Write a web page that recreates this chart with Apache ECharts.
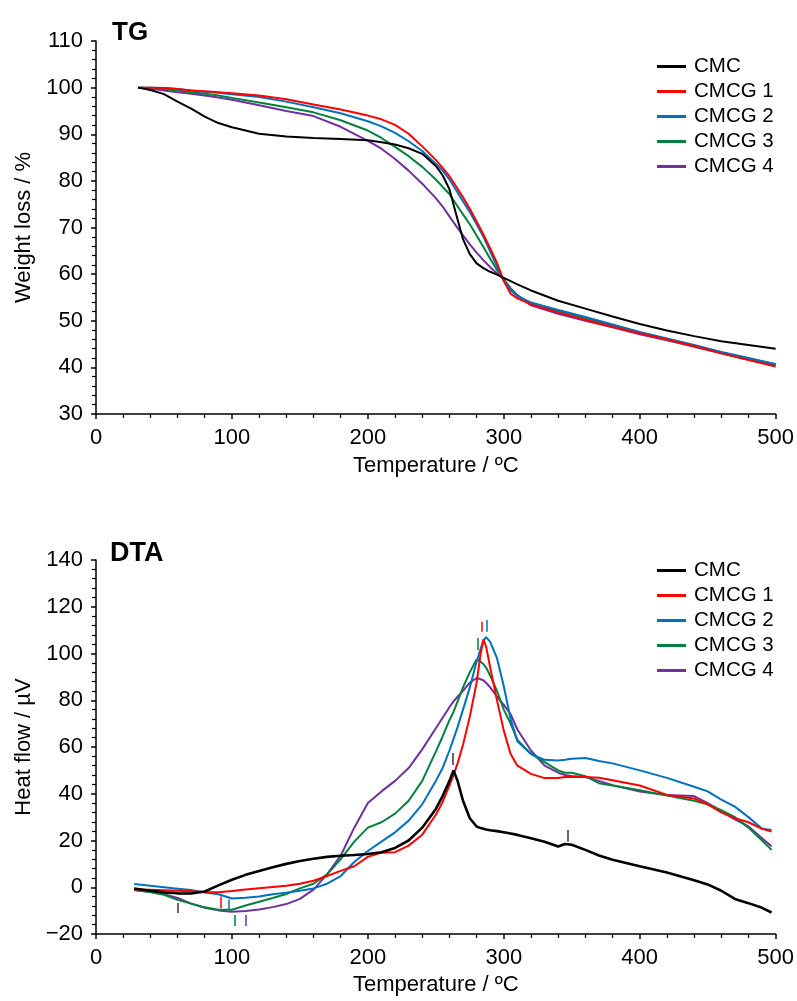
<!DOCTYPE html>
<html>
<head>
<meta charset="utf-8">
<script src="https://cdn.jsdelivr.net/npm/echarts@6/dist/echarts.min.js"></script>
<style>
html,body{margin:0;padding:0;background:#fff;}
#c{width:797px;height:1001px;}
</style>
</head>
<body>
<div id="c"></div>
<script>
// ---------- DATA ----------
const seriesNames = ['CMC', 'CMCG 1', 'CMCG 2', 'CMCG 3', 'CMCG 4'];
const seriesColors = ['#000000', '#ff0000', '#0070c0', '#00823b', '#7030a0'];

// TG: temperature (°C) and weight (%)
const tgT = [31, 40, 50, 60, 70, 80, 90, 100, 120, 140, 160, 180, 200, 210, 220, 230, 240, 250, 255, 260, 265, 270, 275, 280, 285, 290, 295, 300, 305, 310, 320, 340, 360, 380, 400, 420, 440, 460, 480, 500];
const tgCMC   = [100, 99.5, 98.6, 97.0, 95.5, 93.8, 92.4, 91.5, 90.1, 89.5, 89.2, 89.0, 88.7, 88.3, 87.8, 87.0, 85.8, 83.2, 81.2, 78.2, 72.8, 67.5, 64.3, 62.3, 61.3, 60.5, 59.9, 59.2, 58.5, 57.8, 56.5, 54.3, 52.6, 50.9, 49.3, 47.9, 46.7, 45.6, 44.8, 44.0];
const tgCMCG1 = [100, 100, 99.9, 99.7, 99.4, 99.2, 99.0, 98.8, 98.3, 97.5, 96.4, 95.3, 94.0, 93.2, 92.0, 90.1, 87.4, 84.5, 82.8, 81.0, 78.8, 76.5, 74.0, 71.3, 68.5, 65.5, 62.4, 58.5, 55.8, 54.8, 53.5, 51.8, 50.2, 48.7, 47.3, 46.0, 44.6, 43.0, 41.6, 40.2];
const tgCMCG2 = [100, 100, 99.9, 99.7, 99.4, 99.1, 98.9, 98.6, 98.0, 97.0, 95.8, 94.5, 92.8, 91.7, 90.3, 88.5, 86.4, 83.7, 82.2, 80.3, 78.0, 75.6, 73.3, 70.7, 68.0, 64.9, 61.6, 58.6, 56.5, 55.3, 53.9, 52.3, 50.8, 49.2, 47.6, 46.2, 44.8, 43.3, 42.0, 40.7];
const tgCMCG3 = [100, 99.9, 99.7, 99.4, 99.0, 98.7, 98.3, 97.8, 96.8, 95.8, 94.7, 93.0, 90.8, 89.2, 87.3, 85.3, 83.0, 80.3, 78.7, 77.2, 75.0, 72.8, 70.7, 68.3, 65.8, 63.3, 60.9, 58.8, 56.8, 55.4, 53.8, 52.1, 50.6, 49.0, 47.5, 46.0, 44.6, 43.2, 41.9, 40.7];
const tgCMCG4 = [100, 99.8, 99.4, 99.0, 98.7, 98.3, 97.9, 97.4, 96.2, 95.0, 93.9, 91.6, 88.6, 86.9, 84.7, 82.2, 79.4, 76.3, 74.5, 72.4, 70.3, 68.3, 66.4, 64.6, 63.0, 61.5, 60.2, 58.9, 57.0, 55.5, 53.3, 51.5, 50.0, 48.6, 47.1, 45.8, 44.4, 43.0, 41.7, 40.5];

// DTA: temperature (°C) and heat flow (µV)
const dtaT = [28, 40, 50, 60, 70, 80, 90, 100, 110, 120, 130, 140, 150, 160, 170, 180, 190, 200, 210, 220, 230, 240, 250, 255, 260, 263, 266, 270, 275, 280, 283, 285, 287, 290, 295, 300, 305, 310, 320, 330, 340, 345, 350, 360, 370, 380, 400, 420, 440, 450, 460, 470, 480, 490, 497];
const dtaCMC   = [-0.5, -1.5, -2.2, -2.6, -2.7, -1.8, 0.8, 3.2, 5.3, 7.0, 8.6, 10.0, 11.2, 12.2, 13.0, 13.5, 13.8, 14.2, 15.0, 16.8, 20.0, 25.5, 33.5, 39.0, 45.5, 50.0, 45.5, 37.0, 29.5, 26.0, 25.3, 25.0, 24.7, 24.4, 24.0, 23.5, 23.0, 22.4, 21.0, 19.5, 17.4, 18.5, 18.2, 16.0, 13.6, 11.8, 9.0, 6.3, 3.0, 1.2, -1.5, -5.0, -6.8, -8.8, -10.8];
const dtaCMCG1 = [-1.0, -1.1, -1.3, -1.5, -1.7, -2.0, -2.1, -1.6, -1.0, -0.4, 0.1, 0.6, 1.5, 2.8, 4.8, 7.0, 9.0, 13.0, 14.8, 15.0, 17.8, 22.5, 31.0, 36.5, 43.5, 48.0, 53.0, 61.0, 73.0, 87.5, 100.0, 106.0, 103.0, 94.0, 80.0, 67.0, 57.0, 52.0, 48.5, 46.7, 46.7, 47.2, 47.2, 47.2, 46.8, 45.8, 43.5, 39.5, 38.0, 35.5, 32.0, 29.5, 27.8, 25.0, 23.8];
const dtaCMCG2 = [1.4, 0.6, 0.0, -0.6, -1.2, -2.2, -3.0, -4.8, -4.5, -4.0, -3.0, -2.3, -1.5, -0.5, 1.5, 4.8, 10.8, 15.5, 19.5, 23.5, 28.5, 35.5, 45.5, 51.0, 58.5, 63.5, 68.5, 76.0, 85.5, 96.5, 102.0, 105.5, 107.0, 105.0, 98.0, 86.0, 72.0, 62.5, 57.0, 54.5, 54.2, 54.5, 55.0, 55.3, 54.0, 53.0, 50.0, 46.8, 43.0, 41.0, 37.5, 34.5, 30.0, 25.0, 24.5];
const dtaCMCG3 = [-1.2, -2.0, -3.2, -5.4, -7.0, -8.6, -9.6, -9.6, -7.8, -6.2, -4.6, -2.9, -0.5, 1.5, 5.5, 12.0, 19.5, 25.5, 27.8, 31.5, 37.0, 45.5, 58.0, 64.5, 71.5, 75.0, 79.5, 85.5, 92.0, 97.5, 96.5, 95.5, 94.0, 90.5, 84.0, 76.0, 70.0, 63.0, 57.0, 53.5, 50.0, 49.0, 49.0, 47.5, 44.5, 43.5, 41.5, 39.2, 37.0, 35.5, 33.0, 30.0, 25.5, 20.0, 16.0];
const dtaCMCG4 = [-1.2, -2.0, -3.0, -4.6, -7.0, -8.8, -9.9, -10.5, -10.2, -9.5, -8.5, -7.2, -5.0, -1.0, 5.5, 13.5, 25.5, 36.0, 41.0, 45.5, 51.0, 59.0, 68.0, 72.5, 77.0, 79.5, 81.5, 84.0, 87.5, 89.5, 89.0, 88.5, 87.5, 85.5, 81.5, 78.0, 74.0, 67.5, 58.5, 52.0, 49.0, 48.0, 47.6, 47.2, 45.5, 43.7, 41.0, 39.5, 39.0, 36.0, 32.5, 29.0, 26.0, 21.0, 17.5];

// DTA peak/minimum markers: temperature, low, high, series index
const markT      = [60, 92, 97.5, 102, 110, 262.5, 284, 287.5, 281, 347];
const markLow    = [-11.0, -9.0, -9.7, -16.6, -16.6, 52.3, 109.3, 109.3, 101.5, 19.5];
const markHigh   = [-6.7, -4.0, -5.2, -11.9, -11.9, 57.4, 113.6, 114.3, 106.6, 24.5];
const markSeries = [0, 1, 2, 3, 4, 0, 1, 2, 3, 0];

// Axis settings
const xTicks = {min: 0, max: 500, interval: 100};
const tgY = {min: 30, max: 110, interval: 10};
const dtaY = {min: -20, max: 140, interval: 20};

// ---------- CHART ----------
const FONT = '"Liberation Sans", Arial, sans-serif';
const chart = echarts.init(document.getElementById('c'), null, {renderer: 'canvas'});

function pairs(t, v) { return t.map((x, i) => [x, v[i]]); }

const tgVals = [tgCMC, tgCMCG1, tgCMCG2, tgCMCG3, tgCMCG4];
const dtaVals = [dtaCMC, dtaCMCG1, dtaCMCG2, dtaCMCG3, dtaCMCG4];

function axisCommon() {
  return {
    axisLine: {show: true, onZero: false, lineStyle: {color: '#000', width: 1.5}},
    axisTick: {show: true, inside: false, length: 5, lineStyle: {color: '#000', width: 1.5}},
    minorTick: {show: true, splitNumber: 5, length: 4, lineStyle: {color: '#000', width: 1.2}},
    splitLine: {show: false},
    axisLabel: {color: '#000', fontSize: 22, fontFamily: FONT, margin: 13,
      formatter: v => String(v).replace('-', '\u2212')},
    nameTextStyle: {color: '#000', fontSize: 22, fontFamily: FONT}
  };
}

const series = [];
for (let i = 0; i < 5; i++) {
  series.push({
    name: seriesNames[i], type: 'line', xAxisIndex: 0, yAxisIndex: 0,
    data: pairs(tgT, tgVals[i]), showSymbol: false, symbol: 'none', smooth: false,
    lineStyle: {color: seriesColors[i], width: 2}, itemStyle: {color: seriesColors[i]},
    z: 10 - i, animation: false
  });
}
for (let i = 0; i < 5; i++) {
  const md = [];
  markT.forEach((t, k) => {
    if (markSeries[k] === i) md.push([{coord: [t, markLow[k]]}, {coord: [t, markHigh[k]]}]);
  });
  series.push({
    name: seriesNames[i], type: 'line', xAxisIndex: 1, yAxisIndex: 1,
    data: pairs(dtaT, dtaVals[i]), showSymbol: false, symbol: 'none', smooth: false,
    lineStyle: {color: seriesColors[i], width: i === 0 ? 2.6 : 2}, itemStyle: {color: seriesColors[i]},
    z: 10 - i, animation: false,
    markLine: {silent: true, symbol: ['none', 'none'], animation: false,
      label: {show: false},
      lineStyle: {color: i === 0 ? '#333' : seriesColors[i], width: 1.5, type: 'solid'},
      emphasis: {disabled: true},
      data: md}
  });
}

const legendBase = {
  orient: 'vertical', left: 657, itemWidth: 29, itemHeight: 3, itemGap: 4,
  icon: 'rect', selectedMode: false, padding: 0,
  textStyle: {color: '#000', fontSize: 20.5, fontFamily: FONT, lineHeight: 20, padding: [0, 0, 0, 3]},
  data: seriesNames
};

chart.setOption({
  backgroundColor: '#fff',
  animation: false,
  title: [
    {text: 'TG', left: 112, top: 20, padding: 0,
      textStyle: {fontSize: 26, fontWeight: 'bold', color: '#000', fontFamily: FONT}},
    {text: 'DTA', left: 110, top: 540, padding: 0,
      textStyle: {fontSize: 27, fontWeight: 'bold', color: '#000', fontFamily: FONT}}
  ],
  legend: [
    Object.assign({}, legendBase, {top: 56}),
    Object.assign({}, legendBase, {top: 560})
  ],
  grid: [
    {left: 96, right: 21, top: 41, bottom: 587, containLabel: false},
    {left: 96, right: 21, top: 560, bottom: 67, containLabel: false}
  ],
  xAxis: [
    Object.assign(axisCommon(), {type: 'value', gridIndex: 0, min: xTicks.min, max: xTicks.max, interval: xTicks.interval,
      name: 'Temperature / ºC', nameLocation: 'middle', nameGap: 41}),
    Object.assign(axisCommon(), {type: 'value', gridIndex: 1, min: xTicks.min, max: xTicks.max, interval: xTicks.interval,
      name: 'Temperature / ºC', nameLocation: 'middle', nameGap: 40})
  ],
  yAxis: [
    Object.assign(axisCommon(), {type: 'value', gridIndex: 0, min: tgY.min, max: tgY.max, interval: tgY.interval,
      name: 'Weight loss / %', nameLocation: 'middle', nameGap: 60}),
    Object.assign(axisCommon(), {type: 'value', gridIndex: 1, min: dtaY.min, max: dtaY.max, interval: dtaY.interval,
      name: 'Heat flow / µV', nameLocation: 'middle', nameGap: 60})
  ],
  series: series
});
</script>
</body>
</html>
